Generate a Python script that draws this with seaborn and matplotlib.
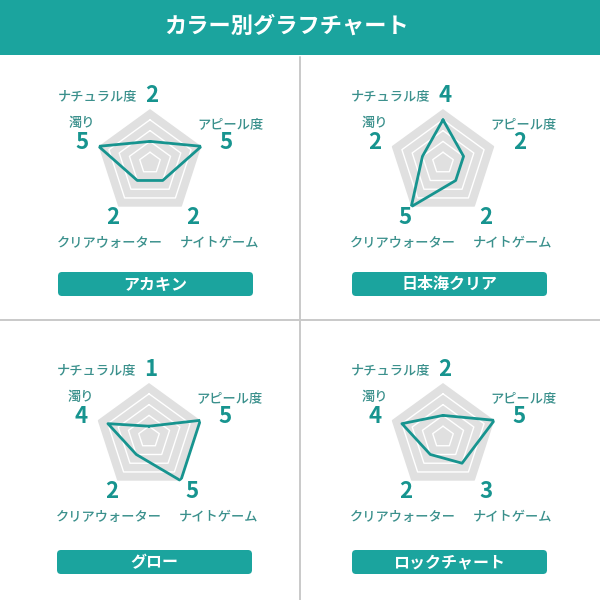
import numpy as np
import pandas as pd
import matplotlib
matplotlib.use("Agg")
import matplotlib.pyplot as plt
from matplotlib.patches import FancyBboxPatch, Rectangle
import seaborn as sns

# radar spokes, clockwise from the top
axis_labels = ["ナチュラル度", "アピール度", "ナイトゲーム", "クリアウォーター", "濁り"]
color_names = ["アカキン", "日本海クリア", "グロー", "ロックチャート"]
akakin = [2, 5, 2, 2, 5]
nihonkai_clear = [4, 2, 2, 5, 2]
glow = [1, 5, 5, 2, 4]
rock_chart = [2, 5, 3, 2, 4]
scores = [akakin, nihonkai_clear, glow, rock_chart]
grid_levels = [1, 2, 3, 4]
max_level = 5
title = "カラー別グラフチャート"

TEAL = "#1ba49e"
TEAL_DARK = "#17948f"
LABEL_COLOR = "#3a908c"
GRID_FILL = "#e0e0e0"

sns.set_style("white")
plt.rcParams["font.family"] = ["Noto Sans CJK JP", "DejaVu Sans"]

# layout in pixels (600x600 canvas, y down)
W = H = 600
R = 54
centers = [(150, 163), (443, 163), (149, 437), (443, 437)]
boxes = [(58, 272), (352, 272), (57, 550), (352, 550)]
box_w, box_h = 195, 24
# text offsets from each spoke tip (pixels, +y up)
num_offsets = [(2, 13), (25, 4), (11, -11), (-6, -11), (-17, 4)]
label_offsets = [(-13, 13), (29, 22), (38, -36), (-8, -36), (-17, 23)]
label_ha = ["right", "center", "center", "center", "center"]

fig = plt.figure(figsize=(6, 6), dpi=100)
fig.patch.set_facecolor("white")

bg = fig.add_axes([0, 0, 1, 1])
bg.set_xlim(0, W)
bg.set_ylim(H, 0)
bg.axis("off")

# banner + title
bg.add_patch(Rectangle((0, 0), W, 55, color=TEAL, lw=0))
bg.text(287, 26, title, color="white", fontsize=16, fontweight="bold",
        ha="center", va="center")

# panel separators
bg.plot([300, 300], [57, 600], color="#c9c9c9", lw=1.4)
bg.plot([0, 600], [320, 320], color="#c9c9c9", lw=1.4)

theta = np.linspace(0, 2 * np.pi, len(axis_labels), endpoint=False)
theta_closed = np.append(theta, theta[0])

for i, (name, vals) in enumerate(zip(color_names, scores)):
    cx, cy = centers[i]
    ax = fig.add_axes([(cx - R) / W, 1 - (cy + R) / H, 2 * R / W, 2 * R / H],
                      projection="polar")
    ax.set_theta_zero_location("N")
    ax.set_theta_direction(-1)
    ax.set_ylim(0, max_level)
    ax.grid(False)
    ax.spines["polar"].set_visible(False)
    ax.set_xticks([])
    ax.set_yticks([])
    ax.patch.set_alpha(0)

    ax.fill(theta_closed, [max_level] * len(theta_closed), color=GRID_FILL, lw=0)
    for lvl in grid_levels:
        ax.plot(theta_closed, [lvl] * len(theta_closed), color="white", lw=1)

    df = pd.DataFrame({"theta": theta_closed, "score": vals + vals[:1]})
    sns.lineplot(data=df, x="theta", y="score", ax=ax, sort=False,
                 estimator=None, color=TEAL_DARK, lw=2)
    ax.set_xlabel("")
    ax.set_ylabel("")

    for k, (lab, v) in enumerate(zip(axis_labels, vals)):
        ax.annotate(str(v), xy=(theta[k], max_level), xytext=num_offsets[k],
                    textcoords="offset pixels", ha="center", va="center",
                    fontsize=16, fontweight="bold", color=TEAL_DARK,
                    annotation_clip=False)
        ax.annotate(lab, xy=(theta[k], max_level), xytext=label_offsets[k],
                    textcoords="offset pixels", ha=label_ha[k], va="center",
                    fontsize=9.5, fontweight="medium", color=LABEL_COLOR,
                    annotation_clip=False)

    bx, by = boxes[i]
    bg.add_patch(FancyBboxPatch((bx, by), box_w, box_h,
                                boxstyle="round,pad=0,rounding_size=4",
                                color=TEAL, lw=0))
    bg.text(bx + box_w / 2, by + box_h / 2, name, color="white", fontsize=11.5,
            fontweight="bold", ha="center", va="center")

fig.savefig("out.png", dpi=100, facecolor="white")
